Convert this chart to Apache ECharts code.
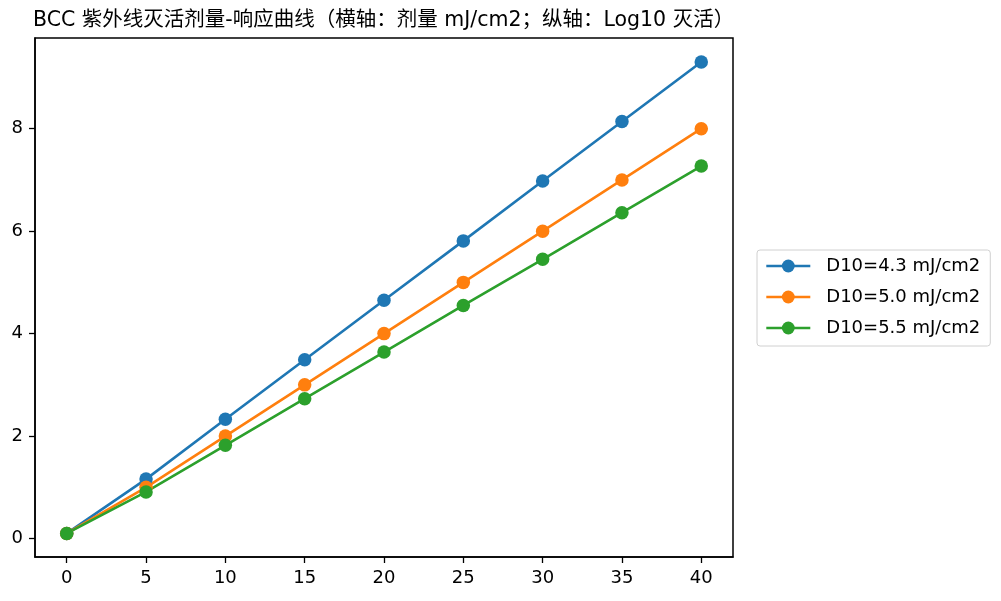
<!DOCTYPE html>
<html>
<head>
<meta charset="utf-8">
<script src="https://cdn.jsdelivr.net/npm/echarts@6/dist/echarts.min.js"></script>
<style>
html, body { margin: 0; padding: 0; background: #fff; }
#chart { width: 1001px; height: 601px; }
</style>
</head>
<body>
<div id="chart"></div>
<script>
var doses = [0, 5, 10, 15, 20, 25, 30, 35, 40];
var seriesNames = ['D10=4.3 mJ/cm2', 'D10=5.0 mJ/cm2', 'D10=5.5 mJ/cm2'];
var logKill43 = [0.1, 1.16, 2.33, 3.49, 4.65, 5.81, 6.98, 8.14, 9.30];
var logKill50 = [0.1, 1.0, 2.0, 3.0, 4.0, 5.0, 6.0, 7.0, 8.0];
var logKill55 = [0.1, 0.91, 1.82, 2.73, 3.64, 4.55, 5.45, 6.36, 7.27];
var xTicks = [0, 5, 10, 15, 20, 25, 30, 35, 40];
var yTicks = [0, 2, 4, 6, 8];
var colors = ['#1f77b4', '#ff7f0e', '#2ca02c'];

function pairs(ys) {
    return doses.map(function (d, i) { return [d, ys[i]]; });
}

function lineSeries(name, ys, color) {
    return {
        name: name,
        type: 'line',
        data: pairs(ys),
        symbol: 'circle',
        symbolSize: 13.5,
        color: color,
        lineStyle: { width: 2.6, color: color },
        itemStyle: { color: color },
        animation: false
    };
}

var font = '"DejaVu Sans", "Noto Sans CJK SC", sans-serif';

getechart('chart', {
    title: {
        text: 'BCC 紫外线灭活剂量-响应曲线（横轴：剂量 mJ/cm2；纵轴：Log10 灭活）',
        left: 28,
        top: 5,
        textStyle: { fontSize: 20.5, fontWeight: 'normal', color: '#000', fontFamily: font }
    },
    legend: {
        orient: 'vertical',
        left: 757,
        top: 250,
        itemWidth: 44,
        itemHeight: 16,
        itemGap: 11,
        padding: [6, 10, 8, 8],
        borderColor: '#d0d0d0',
        borderWidth: 1,
        borderRadius: 3,
        lineStyle: { width: 2.6 },
        textStyle: { fontSize: 18, lineHeight: 20, color: '#000', fontFamily: font, padding: [0, 0, 0, 11] },
        data: seriesNames
    },
    grid: { left: 35, right: 268, top: 38, bottom: 44 },
    xAxis: {
        type: 'value',
        min: -2,
        max: 42,
        splitLine: { show: false },
        axisLine: { onZero: false, lineStyle: { color: '#000', width: 1.5 } },
        axisTick: { show: true, length: 6, customValues: xTicks, lineStyle: { color: '#000', width: 1.3 } },
        axisLabel: { customValues: xTicks, fontSize: 18, color: '#000', margin: 12, fontFamily: font }
    },
    yAxis: {
        type: 'value',
        min: -0.36,
        max: 9.77,
        splitLine: { show: false },
        axisLine: { show: true, onZero: false, lineStyle: { color: '#000', width: 1.5 } },
        axisTick: { show: true, length: 6, customValues: yTicks, lineStyle: { color: '#000', width: 1.3 } },
        axisLabel: { customValues: yTicks, fontSize: 18, color: '#000', margin: 12, fontFamily: font, padding: [4, 0, 0, 0] }
    },
    series: [
        lineSeries(seriesNames[0], logKill43, colors[0]),
        lineSeries(seriesNames[1], logKill50, colors[1]),
        lineSeries(seriesNames[2], logKill55, colors[2])
    ]
});

// 边框右侧和上侧
function getechart(idName, idOption) {
    var id = echarts.init(document.getElementById(idName));
    id.setOption(idOption);
    var zr = id.getZr();
    zr.add(new echarts.graphic.Rect({
        shape: { x: 35, y: 38, width: 1001 - 268 - 35, height: 601 - 44 - 38 },
        style: { fill: 'none', stroke: '#000', lineWidth: 1.5 },
        silent: true,
        z: 100
    }));
    window.addEventListener('resize', function () {
        id.resize();
    });
}
</script>
</body>
</html>
